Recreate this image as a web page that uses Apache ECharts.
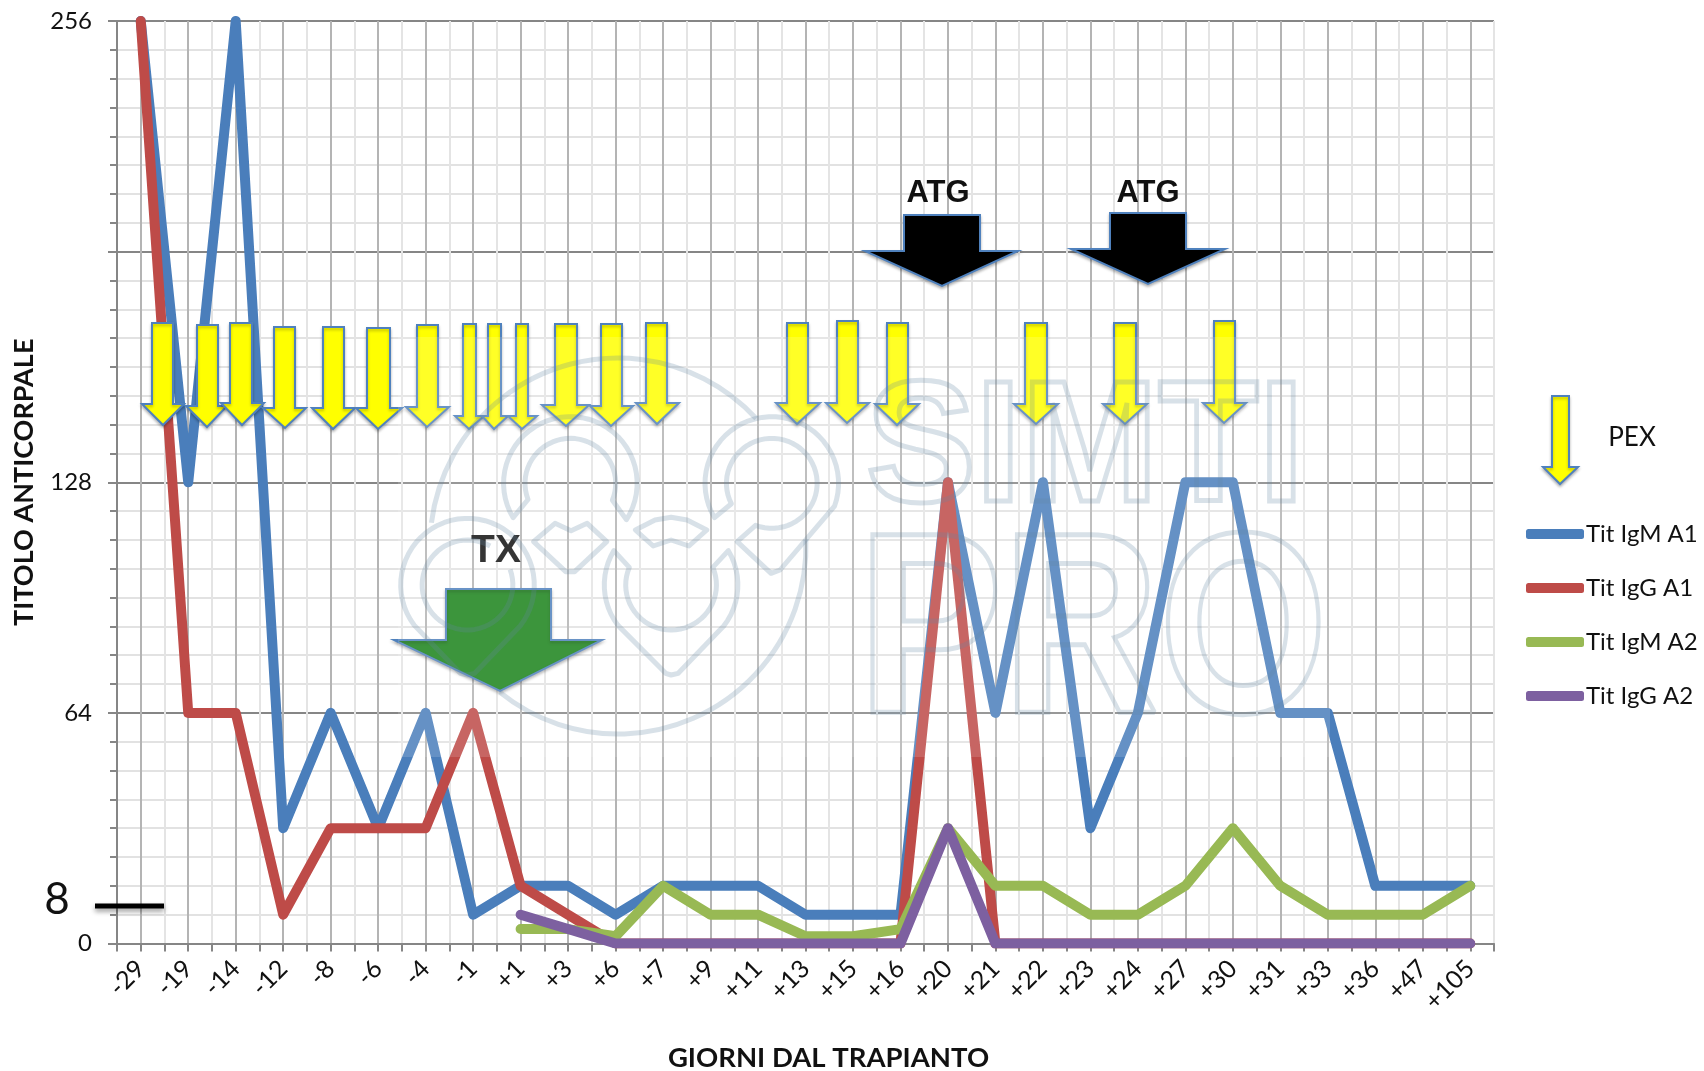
<!DOCTYPE html>
<html>
<head>
<meta charset="utf-8">
<title>Titolo anticorpale</title>
<script src="https://cdn.jsdelivr.net/npm/echarts@6/dist/echarts.min.js"></script>
<style>
  html, body { margin: 0; padding: 0; background: #fff; }
  #main { width: 1704px; height: 1071px; }
</style>
</head>
<body>
<div id="main"></div>
<script>
const categories = ['-29','-19','-14','-12','-8','-6','-4','-1','+1','+3','+6','+7','+9','+11','+13','+15','+16','+20','+21','+22','+23','+24','+27','+30','+31','+33','+36','+47','+105'];
const yTickLabels = [0, 64, 128, 256];

const titIgmA1 = [256,128,256,32,64,32,64,8,16,16,8,16,16,16,8,8,8,128,64,128,32,64,128,128,64,64,16,16,16];
const titIggA1 = [256,64,64,8,32,32,32,64,16,8,0,0,0,0,0,0,0,128,0,0,0,0,0,0,0,0,0,0,0];
const titIgmA2 = [null,null,null,null,null,null,null,null,4,4,2,16,8,8,2,2,4,32,16,16,8,8,16,32,16,8,8,8,16];
const titIggA2 = [null,null,null,null,null,null,null,null,8,4,0,0,0,0,0,0,0,32,0,0,0,0,0,0,0,0,0,0,0];

// annotation shapes, in page pixels: shaft l/r, head l/r, tip x, top, head base, tip y
const pexArrows = [
  [152,173,142,184,163,323,404,425],
  [197,218,186,227,207,325,406,427],
  [230,252,221,264,242,323,403,425],
  [274,295,263,306,285,327,408,428],
  [323,344,312,355,333,327,408,429],
  [367,390,356,402,378,328,408,429],
  [417,438,406,449,427,325,407,427],
  [463,476,455,484,469,324,416,429],
  [488,501,482,508,494,324,416,429],
  [516,528,508,537,522,324,416,429],
  [555,577,542,589,566,324,405,426],
  [601,622,590,633,611,324,406,426],
  [646,667,636,679,657,323,403,424],
  [787,808,776,820,797,323,403,424],
  [837,858,826,869,847,321,403,423],
  [887,908,875,919,897,323,404,425],
  [1025,1047,1014,1058,1036,323,404,424],
  [1114,1136,1103,1147,1125,323,404,424],
  [1214,1235,1203,1246,1224,321,403,423]
];
const pexLegendArrow = [1552,1569,1543,1578,1560,396,467,484];
const atgArrows = [
  [904,980,865,1018,942,215,251,286],
  [1110,1186,1071,1225,1148,213,249,284]
];
const txArrow = [446,551,394,602,500,589,640,691];

const arrowPoints = a => [
  [a[0],a[5]],[a[1],a[5]],[a[1],a[6]],[a[3],a[6]],[a[4],a[7]],[a[2],a[6]],[a[0],a[6]]
];

const arrowEl = (a, fill, z) => ({
  type: 'polygon',
  z: z,
  shape: { points: arrowPoints(a) },
  style: {
    fill: fill, stroke: '#4f81bd', lineWidth: 2,
    shadowBlur: 3, shadowOffsetY: 2, shadowColor: 'rgba(0,0,0,0.25)'
  }
});

const labelEl = (text, x, y, font, z) => ({
  type: 'text',
  z: z,
  style: { text: text, x: x, y: y, font: font, fill: '#111', textAlign: 'center', textVerticalAlign: 'middle' }
});

// watermark logo, traced on a crop of the picture then mapped to the page
const wmX = x => 380 + x / 2.8;
const wmY = y => 340 + y / 3;
const arcPts = (cx, cy, rx, ry, from, to) => {
  const pts = [];
  const n = Math.max(2, Math.ceil(Math.abs(to - from) / 6));
  for (let i = 0; i <= n; i++) {
    const a = (from + (to - from) * i / n) * Math.PI / 180;
    pts.push([cx + rx * Math.cos(a), cy + ry * Math.sin(a)]);
  }
  return pts;
};
const OUT = [187, 200], INN = [127, 135];
const wmShapes = [
  // top lobe
  { closed: true, pts: [...arcPts(533,430,OUT[0],OUT[1],149,393), ...arcPts(533,430,INN[0],INN[1],382,159)] },
  // right lobe
  { closed: true, pts: [...arcPts(1097,430,OUT[0],OUT[1],149,380), [1120,690],[1095,700],[1000,605],
      ...arcPts(1097,430,INN[0],INN[1],471,153)] },
  // bottom centre lobe
  { closed: true, pts: [...arcPts(815,735,OUT[0],OUT[1],211,143), [800,1000],[815,1005],[835,1000],
      ...arcPts(815,735,OUT[0],OUT[1],38,-31), ...arcPts(815,735,INN[0],INN[1],-23,203)] },
  // left lobe
  { closed: true, pts: [...arcPts(245,735,OUT[0],OUT[1],143,398), [265,1000],[245,1005],[225,1000]] },
  { closed: false, pts: arcPts(245,735,INN[0],INN[1],-20,300) },
  // small shapes between the lobes
  { closed: true, pts: [[430,605],[490,550],[535,572],[580,550],[635,605],[545,695],[520,695]] },
  { closed: true, pts: [[715,570],[770,540],[815,532],[860,540],[915,570],[865,618],[815,600],[765,618]] }
];

const wmStroke = 'rgba(100,135,165,0.25)';
const wmStyle = { fill: 'none', stroke: wmStroke, lineWidth: 5, lineJoin: 'round' };
const wmElements = wmShapes.map(s => ({
  type: s.closed ? 'polygon' : 'polyline',
  z: 110,
  shape: { points: s.pts.map(p => [wmX(p[0]), wmY(p[1])]) },
  style: wmStyle
}));
wmElements.push(
  { type: 'arc', z: 110, shape: { cx: 618, cy: 546, r: 188, startAngle: -172.9 * Math.PI / 180, endAngle: -42.7 * Math.PI / 180, clockwise: true }, style: wmStyle },
  { type: 'arc', z: 110, shape: { cx: 618, cy: 546, r: 188, startAngle: -2 * Math.PI / 180, endAngle: 129 * Math.PI / 180, clockwise: true }, style: wmStyle },
  { type: 'text', z: 110, x: 866, y: 367, scaleX: 0.95, scaleY: 1,
    style: { text: 'SIMTI', x: 0, y: 0, font: 'bold 173px "Liberation Sans"', fill: 'transparent', stroke: wmStroke, lineWidth: 5, textVerticalAlign: 'top' } },
  { type: 'text', z: 110, x: 858, y: 512, scaleX: 0.84, scaleY: 1,
    style: { text: 'PRO', x: 0, y: 0, font: 'bold 258px "Liberation Sans"', fill: 'transparent', stroke: wmStroke, lineWidth: 5, textVerticalAlign: 'top' } }
);

const chart = echarts.init(document.getElementById('main'), null, { renderer: 'canvas' });

const lineSeries = (name, data, color) => ({
  name: name,
  type: 'line',
  data: data,
  xAxisIndex: 0,
  yAxisIndex: 0,
  symbol: 'none',
  connectNulls: false,
  lineStyle: { color: color, width: 10, cap: 'round', join: 'round' },
  itemStyle: { color: color },
  emphasis: { disabled: true }
});

const option = {
  animation: false,
  backgroundColor: '#fff',
  textStyle: { fontFamily: 'Lato' },
  grid: { left: 117, top: 21, width: 1377, height: 922.5, containLabel: false, outerBoundsMode: 'none' },
  legend: {
    orient: 'vertical',
    left: 1521,
    top: 517,
    icon: 'roundRect',
    itemWidth: 58,
    itemHeight: 10,
    itemGap: 30,
    selectedMode: false,
    textStyle: { fontFamily: 'Lato', fontSize: 24, color: '#111', padding: [0, 0, 0, -3] }
  },
  xAxis: [
    {
      type: 'category',
      position: 'bottom',
      data: categories,
      boundaryGap: true,
      axisLine: { show: false },
      axisTick: { show: false },
      splitLine: { show: false },
      axisLabel: { interval: 0, rotate: 45, margin: 21, fontFamily: 'Lato', fontSize: 25, color: '#111' },
      name: 'GIORNI DAL TRAPIANTO',
      nameLocation: 'middle',
      nameGap: 101,
      nameTextStyle: { fontFamily: 'Lato', fontWeight: 'bold', fontSize: 27.5, color: '#111', padding: [0, 0, 0, 46] }
    },
    {
      // half-band grid: boundaries are light, band centres darker
      type: 'value',
      position: 'bottom',
      min: 0,
      max: categories.length,
      interval: 1,
      axisLine: { show: true, onZero: false, lineStyle: { color: '#868686', width: 2 } },
      axisTick: { show: true, length: 8, lineStyle: { color: '#868686', width: 2 } },
      minorTick: { show: true, splitNumber: 2, length: 8, lineStyle: { color: '#868686', width: 2 } },
      axisLabel: { show: false },
      splitLine: { show: true, lineStyle: { color: '#e4e4e4', width: 2 } },
      minorSplitLine: { show: true, lineStyle: { color: '#b4b4b4', width: 2 } }
    }
  ],
  yAxis: [
    {
      type: 'value',
      min: 0,
      max: 256,
      interval: 64,
      axisLine: { show: true, onZero: false, lineStyle: { color: '#868686', width: 2 } },
      axisTick: { show: true, length: 9, lineStyle: { color: '#868686', width: 2 } },
      minorTick: { show: true, splitNumber: 8, length: 7, lineStyle: { color: '#868686', width: 2 } },
      splitLine: { show: true, lineStyle: { color: '#868686', width: 2 } },
      minorSplitLine: { show: true, lineStyle: { color: '#e2e2e2', width: 2 } },
      axisLabel: {
        margin: 25,
        fontFamily: 'Lato',
        fontSize: 24,
        color: '#111',
        formatter: v => (yTickLabels.includes(v) ? String(v) : '')
      },
      name: 'TITOLO ANTICORPALE',
      nameLocation: 'middle',
      nameRotate: 90,
      nameGap: 79,
      nameTextStyle: { fontFamily: 'Lato', fontWeight: 'bold', fontSize: 27, color: '#111' }
    }
  ],
  series: [
    lineSeries('Tit IgM A1', titIgmA1, '#4a7ebb'),
    lineSeries('Tit IgG A1', titIggA1, '#be4b48'),
    lineSeries('Tit IgM A2', titIgmA2, '#98b954'),
    lineSeries('Tit IgG A2', titIggA2, '#7d60a0')
  ],
  graphic: [
    ...pexArrows.map(a => arrowEl(a, '#ffff00', 100)),
    arrowEl(pexLegendArrow, '#ffff00', 100),
    ...atgArrows.map(a => arrowEl(a, '#000', 100)),
    arrowEl(txArrow, '#1a831a', 100),
    labelEl('ATG', 938, 193, 'bold 31px "Liberation Sans"', 100),
    labelEl('ATG', 1148, 193, 'bold 31px "Liberation Sans"', 100),
    labelEl('TX', 496, 551, 'bold 39px "Liberation Sans"', 100),
    labelEl('PEX', 1632, 438, '26px Lato', 100),
    labelEl('8', 57, 900, '44px Lato', 100),
    {
      type: 'line',
      z: 100,
      shape: { x1: 95, y1: 906, x2: 164, y2: 906 },
      style: { stroke: '#000', lineWidth: 5, shadowBlur: 5, shadowOffsetY: 3, shadowColor: 'rgba(0,0,0,0.4)' }
    },
    // the watermark image washes out what lies under it
    { type: 'rect', z: 105, shape: { x: 398, y: 337, width: 932, height: 420 }, style: { fill: 'rgba(255,255,255,0.15)' } },
    ...wmElements
  ]
};

chart.setOption(option);
</script>
</body>
</html>
